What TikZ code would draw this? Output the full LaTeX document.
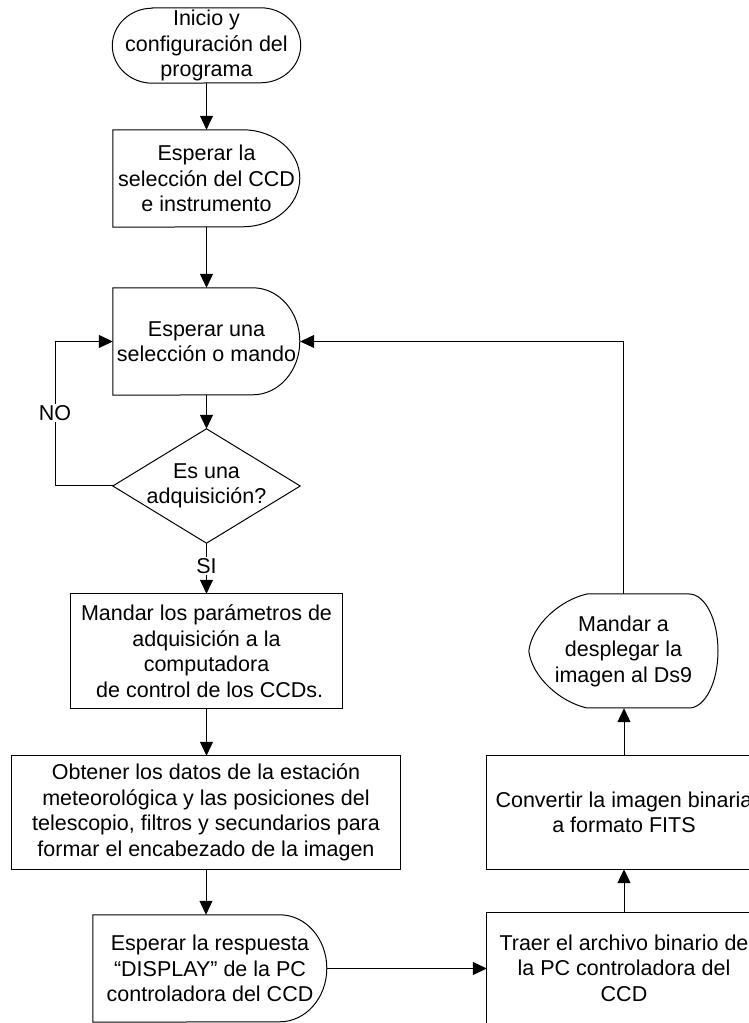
\documentclass[tikz,border=0pt]{standalone}
\usepackage{fontspec}
\setmainfont{Liberation Sans}
\usetikzlibrary{arrows.meta}
\begin{document}
\begin{tikzpicture}[x=1pt,y=1pt,
  every node/.style={font=\fontsize{21.5}{25.5}\selectfont, align=center, inner sep=0pt},
  outline/.style={draw=black, line width=1pt, line join=miter},
  conn/.style={draw=black, line width=1pt, -{Triangle[length=14pt,width=13pt]}},
  lbl/.style={fill=white, inner sep=1pt}]
\useasboundingbox (0,0) rectangle (749,1023);
\clip (0,0) rectangle (749,1023);
\fill[white] (0,0) rectangle (749,1023);

% nodes
\node[minimum width=188, minimum height=75] (start) at (206.5,977.5) {Inicio y\\configuración del\\programa};
\node[minimum width=187, minimum height=97] (sel) at (206.5,844.5) {Esperar la\\selección del CCD\\e instrumento};
\node[minimum width=187, minimum height=107] (wait) at (206.5,681.5) {Esperar una\\selección o mando};
\node[minimum width=187, minimum height=114] (dec) at (206.5,537) {Es una\\adquisición?};
\node[minimum width=271, minimum height=114] (send) at (206.5,372) {Mandar los parámetros de\\adquisición a la\\computadora\hspace*{0.3em}\\\hspace*{0.3em}de control de los CCDs.};
\node[minimum width=388, minimum height=113] (obt) at (206,210.5) {Obtener los datos de la estación\\meteorológica y las posiciones del\\telescopio, filtros y secundarios para\\formar el encabezado de la imagen};
\node[minimum width=234, minimum height=107] (resp) at (210,54.5) {Esperar la respuesta\\“DISPLAY” de la PC\\controladora del CCD};
\node[minimum width=274, minimum height=110] (traer) at (624,55) {Traer el archivo binario de\\la PC controladora del\\CCD};
\node[minimum width=274, minimum height=113] (conv) at (624,210.5) {Convertir la imagen binaria\\a formato FITS};
\node[minimum width=189, minimum height=114] (disp) at (623.5,372) {Mandar a\\desplegar la\\imagen al Ds9};

% outlines
\draw[outline] ([xshift=40]start.north west) -- ([xshift=-40]start.north east)
  arc[start angle=90,end angle=-90,x radius=40,y radius=37.5]
  -- ([xshift=40]start.south west)
  arc[start angle=270,end angle=90,x radius=40,y radius=37.5] -- cycle;
\draw[outline] (sel.north west) -- ++(130,0)
  arc[start angle=90,end angle=-90,x radius=57,y radius=48.5]
  -- (sel.south west) -- cycle;
\draw[outline] (wait.north west) -- ++(140,0)
  arc[start angle=90,end angle=-90,x radius=47,y radius=53.5]
  -- (wait.south west) -- cycle;
\draw[outline] (dec.north) -- (dec.east) -- (dec.south) -- (dec.west) -- cycle;
\draw[outline] (send.south west) rectangle (send.north east);
\draw[outline] (obt.south west) rectangle (obt.north east);
\draw[outline] (resp.north west) -- ++(187,0)
  arc[start angle=90,end angle=-90,x radius=47,y radius=53.5]
  -- (resp.south west) -- cycle;
\draw[outline] ([yshift=-15]traer.south west) -- (traer.north west) -- (traer.north east) -- ([yshift=-15]traer.south east);
\draw[outline] (conv.south west) rectangle (conv.north east);
\draw[outline] (587,429) -- (689,429)
  arc[start angle=90,end angle=-90,x radius=29,y radius=57]
  -- (587,315) .. controls (560,321) and (532,346) .. (disp.west)
  .. controls (532,398) and (560,423) .. (587,429) -- cycle;

% connectors
\draw[conn] (start.south) -- (start.south |- sel.north);
\draw[conn] (sel.south) -- (wait.north);
\draw[conn] (wait.south) -- (dec.north);
\draw[conn] (dec.south) -- (send.north);
\node[lbl] (si) at (206.5,457) {SI};
\coordinate (nocorner) at (55,537);
\draw[conn] (dec.west) -- (nocorner) |- (wait.west);
\node[lbl] (no) at (55,610) {NO};
\draw[conn] (send.south) -- (send.south |- obt.north);
\draw[conn] (obt.south) -- (obt.south |- resp.north);
\draw[conn] (resp.east) -- (resp.east -| traer.west);
\draw[conn] (traer.north) -- (conv.south);
\draw[conn] (conv.north) -- (conv.north |- disp.south);
\draw[conn] (disp.north) |- (wait.east);
\end{tikzpicture}
\end{document}
